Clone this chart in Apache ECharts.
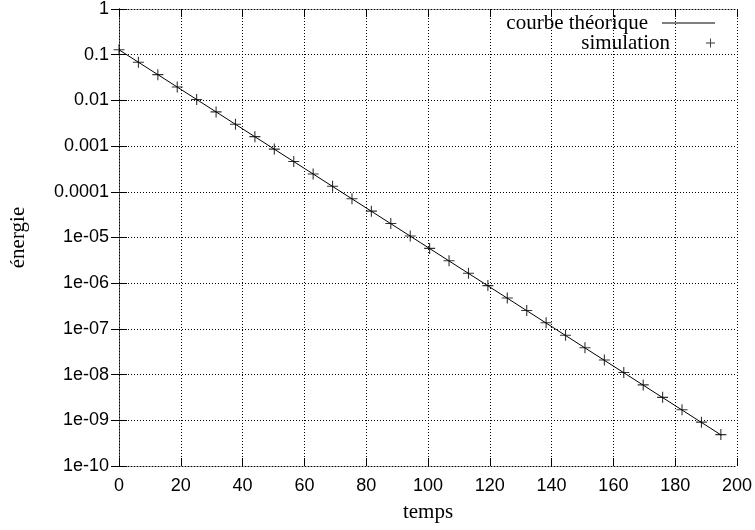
<!DOCTYPE html>
<html>
<head>
<meta charset="utf-8">
<title>énergie / temps</title>
<script src="https://cdn.jsdelivr.net/npm/echarts@6/dist/echarts.min.js"></script>
<style>
  html, body { margin: 0; padding: 0; background: #fff; }
  #chart { width: 755px; height: 530px; }
</style>
</head>
<body>
<div id="chart"></div>
<script>
// courbe théorique : droite en échelle log (deux extrémités)
var theoryTemps = [0, 195];
var theoryEnergie = [0.128, 4.7e-10];

// simulation : un point tous les ~6.28
var simTemps = [0, 6.28, 12.57, 18.85, 25.13, 31.42, 37.70, 43.98, 50.27, 56.55,
  62.83, 69.12, 75.40, 81.68, 87.96, 94.25, 100.53, 106.81, 113.10, 119.38,
  125.66, 131.95, 138.23, 144.51, 150.80, 157.08, 163.36, 169.65, 175.93, 182.21,
  188.50, 194.78];
var simEnergie = [0.128, 0.0685, 0.0366, 0.0196, 0.0105, 0.0056, 0.0030, 0.00161, 0.00086, 0.00046,
  0.000246, 0.000132, 7.05e-5, 3.77e-5, 2.02e-5, 1.08e-5, 5.78e-6, 3.09e-6, 1.65e-6, 8.85e-7,
  4.74e-7, 2.53e-7, 1.36e-7, 7.26e-8, 3.88e-8, 2.08e-8, 1.11e-8, 5.95e-9, 3.18e-9, 1.70e-9,
  9.1e-10, 4.87e-10];

// étiquettes de l'axe y, de 1e-10 à 1
var yTickLabels = ['1e-10', '1e-09', '1e-08', '1e-07', '1e-06', '1e-05',
  '0.0001', '0.001', '0.01', '0.1', '1'];

function zip(a, b) {
  return a.map(function (v, i) { return [v, b[i]]; });
}

var plus = 'path://M4.5,0h1v4.5h4.5v1h-4.5v4.5h-1v-4.5h-4.5v-1h4.5z';
var dotted = { color: '#000', width: 1, type: [1, 2] };
var sansLabel = { color: '#000', fontFamily: 'Liberation Sans', fontSize: 18 };
var serif = { color: '#000', fontFamily: 'Liberation Serif', fontSize: 21 };
var tick = { show: true, inside: true, length: 8, lineStyle: { color: '#000', width: 1 } };

var chart = echarts.init(document.getElementById('chart'), null, { renderer: 'canvas' });

var option = {
  animation: false,
  backgroundColor: '#fff',
  grid: { left: 117, right: 18, top: 6, bottom: 64 },
  legend: [{
    data: [{ name: 'courbe théorique', icon: 'rect' }],
    right: 40, top: 11, padding: 0,
    align: 'right',
    itemWidth: 53, itemHeight: 1,
    textStyle: Object.assign({ lineHeight: 24, padding: [0, 9, 0, 0] }, serif)
  }, {
    data: [{ name: 'simulation', icon: plus }],
    right: 40, top: 31, padding: 0,
    align: 'right',
    itemWidth: 53, itemHeight: 9,
    textStyle: Object.assign({ lineHeight: 24, padding: [0, 9, 0, 0] }, serif)
  }],
  xAxis: [{
    type: 'value', min: 0, max: 200, interval: 20,
    name: 'temps', nameLocation: 'middle', nameGap: 36, nameTextStyle: serif,
    axisLine: { lineStyle: dotted },
    axisTick: tick,
    axisLabel: Object.assign({ margin: 11 }, sansLabel),
    splitLine: { show: true, lineStyle: dotted }
  }, {
    type: 'value', position: 'top', min: 0, max: 200, interval: 20,
    axisLine: { lineStyle: dotted },
    axisTick: tick, axisLabel: { show: false }, splitLine: { show: false }
  }],
  yAxis: [{
    type: 'log', logBase: 10, min: 1e-10, max: 1, interval: 1,
    name: 'énergie', nameLocation: 'middle', nameGap: 90, nameRotate: 90, nameTextStyle: serif,
    axisLine: { lineStyle: dotted },
    axisTick: tick,
    axisLabel: Object.assign({
      margin: 10,
      formatter: function (v) {
        var e = Math.round(Math.log10(v));
        return yTickLabels[e + 10];
      }
    }, sansLabel),
    splitLine: { show: true, lineStyle: dotted }
  }, {
    type: 'log', logBase: 10, min: 1e-10, max: 1, interval: 1, position: 'right',
    axisLine: { lineStyle: dotted },
    axisTick: tick, axisLabel: { show: false }, splitLine: { show: false }
  }],
  series: [{
    name: 'courbe théorique',
    type: 'line',
    data: zip(theoryTemps, theoryEnergie),
    symbol: 'none',
    lineStyle: { color: '#000', width: 1 },
    itemStyle: { color: '#000' },
    z: 2
  }, {
    name: 'simulation',
    type: 'scatter',
    data: zip(simTemps, simEnergie),
    symbol: plus,
    symbolSize: 11,
    itemStyle: { color: '#000' },
    z: 3
  }]
};

chart.setOption(option);
</script>
</body>
</html>
